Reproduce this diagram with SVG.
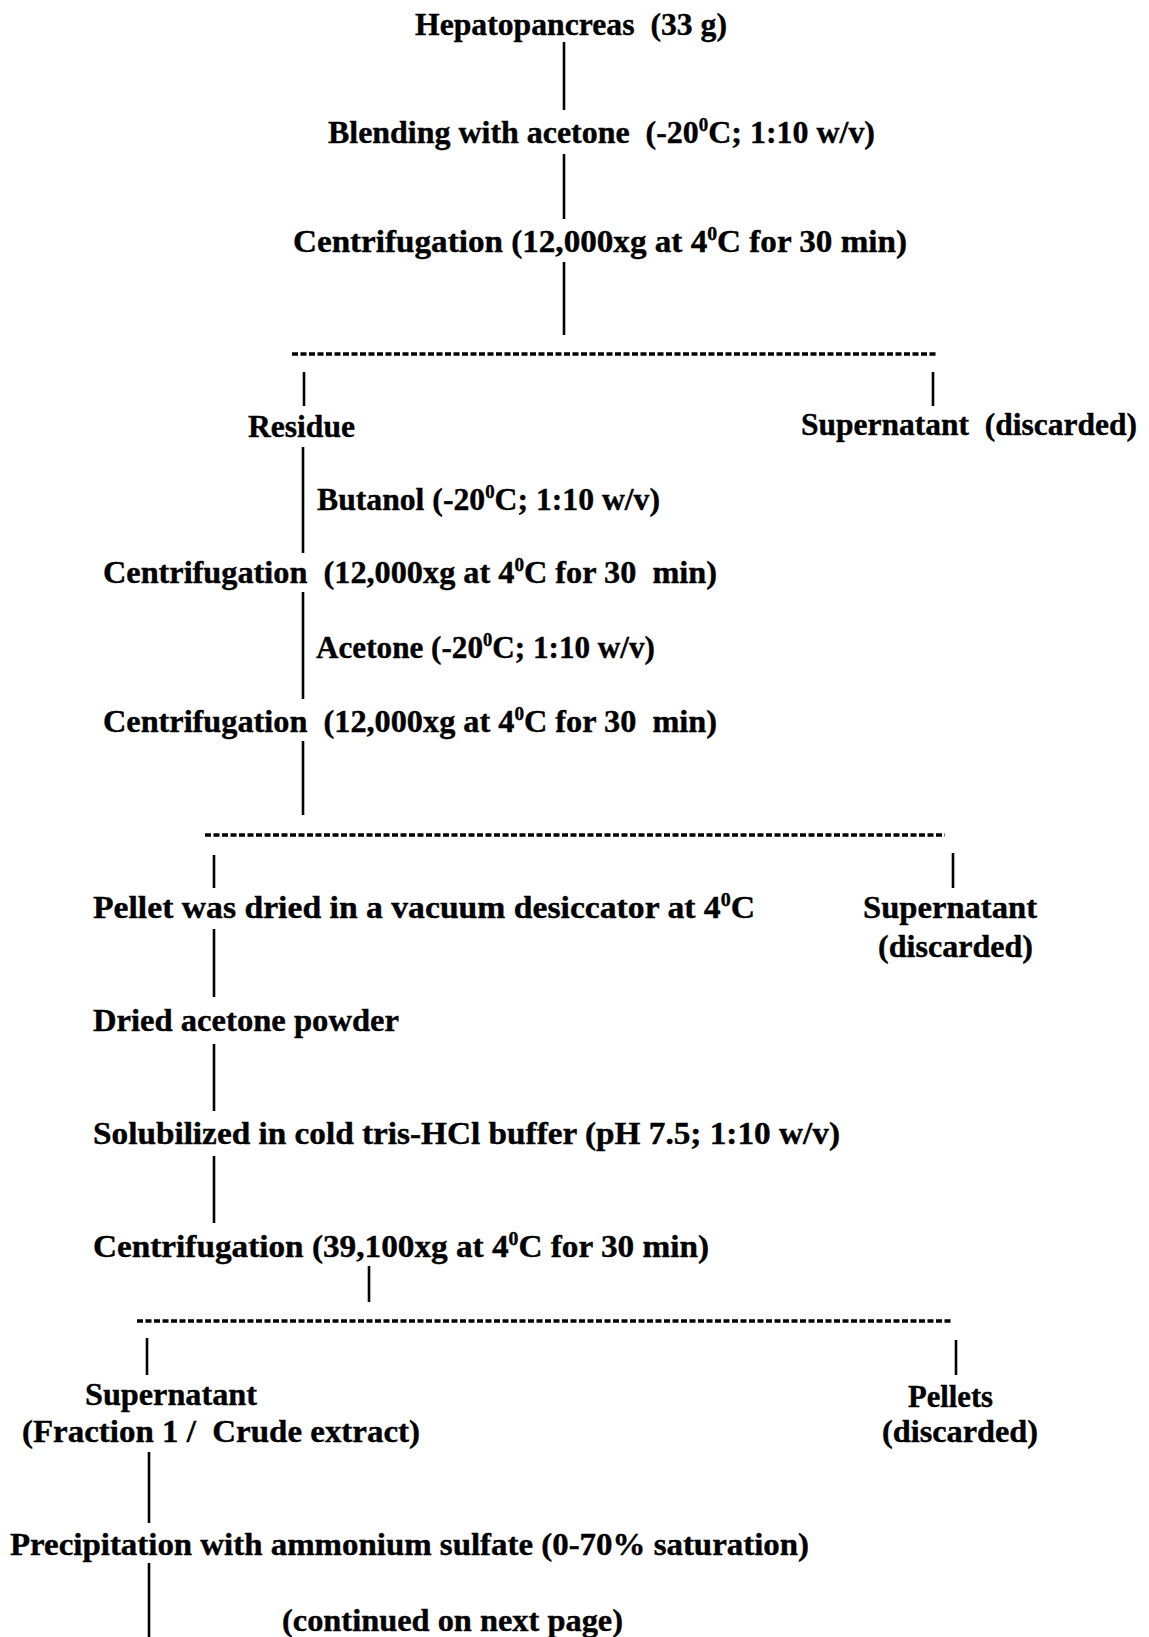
<svg xmlns="http://www.w3.org/2000/svg" width="1149" height="1637" viewBox="0 0 1149 1637">
<style>
.t { font-family: "Liberation Serif", "Times New Roman", serif; font-weight: bold; font-size: 32px; fill: #000; stroke: #000; stroke-width: 0.4; white-space: pre; }
.s { font-size: 19px; }
.v { stroke: #000; stroke-width: 2.6; fill: none; }
.d { stroke: #000; stroke-width: 3.4; stroke-dasharray: 6 2.5; fill: none; }
</style>
<rect width="1149" height="1637" fill="#fff"/>
<g id="connectors">
  <line class="v" x1="564" y1="42" x2="564" y2="110"/>
  <line class="v" x1="564" y1="154" x2="564" y2="219"/>
  <line class="v" x1="564" y1="262" x2="564" y2="335"/>
  <line class="d" x1="292" y1="354" x2="938" y2="354"/>
  <line class="v" x1="304" y1="372" x2="304" y2="406"/>
  <line class="v" x1="933" y1="372" x2="933" y2="406"/>
  <line class="v" x1="303" y1="447" x2="303" y2="553"/>
  <line class="v" x1="303" y1="592" x2="303" y2="699"/>
  <line class="v" x1="303" y1="741" x2="303" y2="815"/>
  <line class="d" x1="205" y1="835" x2="945" y2="835"/>
  <line class="v" x1="214" y1="855" x2="214" y2="888"/>
  <line class="v" x1="953" y1="853" x2="953" y2="888"/>
  <line class="v" x1="214" y1="929" x2="214" y2="997"/>
  <line class="v" x1="214" y1="1044" x2="214" y2="1111"/>
  <line class="v" x1="214" y1="1156" x2="214" y2="1223"/>
  <line class="v" x1="369" y1="1266" x2="369" y2="1302"/>
  <line class="d" x1="137" y1="1321" x2="952" y2="1321"/>
  <line class="v" x1="147" y1="1338" x2="147" y2="1375"/>
  <line class="v" x1="956" y1="1340" x2="956" y2="1375"/>
  <line class="v" x1="149" y1="1452" x2="149" y2="1523"/>
  <line class="v" x1="149" y1="1563" x2="149" y2="1637"/>
</g>
<g id="n-hepatopancreas"><text class="t" x="415" y="35" textLength="312" lengthAdjust="spacingAndGlyphs">Hepatopancreas  (33 g)</text></g>
<g id="n-blending"><text class="t" x="328" y="143" textLength="547" lengthAdjust="spacingAndGlyphs">Blending with acetone  (-20<tspan class="s" dy="-12">0</tspan><tspan dy="12">C; 1:10 w/v)</tspan></text></g>
<g id="n-centrifugation1"><text class="t" x="293" y="252" textLength="614" lengthAdjust="spacingAndGlyphs">Centrifugation (12,000xg at 4<tspan class="s" dy="-12">0</tspan><tspan dy="12">C for 30 min)</tspan></text></g>
<g id="n-residue"><text class="t" x="248" y="437" textLength="107" lengthAdjust="spacingAndGlyphs">Residue</text></g>
<g id="n-supernatant1"><text class="t" x="801" y="435" textLength="336" lengthAdjust="spacingAndGlyphs">Supernatant  (discarded)</text></g>
<g id="n-butanol"><text class="t" x="317" y="510" textLength="343" lengthAdjust="spacingAndGlyphs">Butanol (-20<tspan class="s" dy="-12">0</tspan><tspan dy="12">C; 1:10 w/v)</tspan></text></g>
<g id="n-centrifugation2"><text class="t" x="103" y="583" textLength="614" lengthAdjust="spacingAndGlyphs">Centrifugation  (12,000xg at 4<tspan class="s" dy="-12">0</tspan><tspan dy="12">C for 30  min)</tspan></text></g>
<g id="n-acetone"><text class="t" x="316" y="658" textLength="339" lengthAdjust="spacingAndGlyphs">Acetone (-20<tspan class="s" dy="-12">0</tspan><tspan dy="12">C; 1:10 w/v)</tspan></text></g>
<g id="n-centrifugation3"><text class="t" x="103" y="732" textLength="614" lengthAdjust="spacingAndGlyphs">Centrifugation  (12,000xg at 4<tspan class="s" dy="-12">0</tspan><tspan dy="12">C for 30  min)</tspan></text></g>
<g id="n-pellet"><text class="t" x="93" y="918" textLength="662" lengthAdjust="spacingAndGlyphs">Pellet was dried in a vacuum desiccator at 4<tspan class="s" dy="-12">0</tspan><tspan dy="12">C</tspan></text></g>
<g id="n-supernatant2">
  <text class="t" x="863" y="918" textLength="174" lengthAdjust="spacingAndGlyphs">Supernatant</text>
  <text class="t" x="878" y="957" textLength="155" lengthAdjust="spacingAndGlyphs">(discarded)</text>
</g>
<g id="n-dried"><text class="t" x="93" y="1031" textLength="306" lengthAdjust="spacingAndGlyphs">Dried acetone powder</text></g>
<g id="n-solubilized"><text class="t" x="93" y="1144" textLength="747" lengthAdjust="spacingAndGlyphs">Solubilized in cold tris-HCl buffer (pH 7.5; 1:10 w/v)</text></g>
<g id="n-centrifugation4"><text class="t" x="93" y="1257" textLength="616" lengthAdjust="spacingAndGlyphs">Centrifugation (39,100xg at 4<tspan class="s" dy="-12">0</tspan><tspan dy="12">C for 30 min)</tspan></text></g>
<g id="n-supernatant3">
  <text class="t" x="85" y="1405" textLength="172" lengthAdjust="spacingAndGlyphs">Supernatant</text>
  <text class="t" x="22" y="1442" textLength="398" lengthAdjust="spacingAndGlyphs">(Fraction 1 /  Crude extract)</text>
</g>
<g id="n-pellets">
  <text class="t" x="908" y="1407" textLength="85" lengthAdjust="spacingAndGlyphs">Pellets</text>
  <text class="t" x="882" y="1442" textLength="156" lengthAdjust="spacingAndGlyphs">(discarded)</text>
</g>
<g id="n-precipitation"><text class="t" x="10" y="1555" textLength="799" lengthAdjust="spacingAndGlyphs">Precipitation with ammonium sulfate (0-70% saturation)</text></g>
<g id="n-continued"><text class="t" x="282" y="1631" textLength="341" lengthAdjust="spacingAndGlyphs">(continued on next page)</text></g>
</svg>
